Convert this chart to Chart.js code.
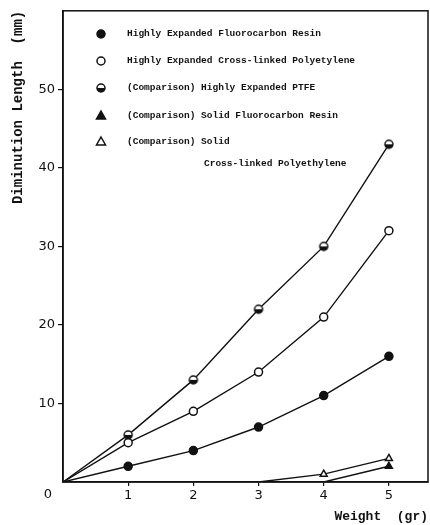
<!DOCTYPE html>
<html>
<head>
<meta charset="utf-8">
<script src="https://cdn.jsdelivr.net/npm/chart.js@4"></script>
<style>
  html, body { margin: 0; padding: 0; background: #fff; }
  canvas { display: block; }
</style>
</head>
<body>
<canvas id="mainChart" width="430" height="525"></canvas>
<script>
// values
const weights = [0, 1, 2, 3, 4, 5];
const fluoroResin = [0, 2, 4, 7, 11, 16];
const crossLinked = [0, 5, 9, 14, 21, 32];
const ptfe = [0, 6, 13, 22, 30, 43];
const solidPolyWeights = [3, 4, 5];
const solidPoly = [0, 1, 3];
const solidFluoroWeights = [4, 5];
const solidFluoro = [0, 2];

const legendLabels = [
  ["Highly Expanded Fluorocarbon Resin"],
  ["Highly Expanded Cross-linked Polyetylene"],
  ["(Comparison) Highly Expanded PTFE"],
  ["(Comparison) Solid Fluorocarbon Resin"],
  ["(Comparison) Solid", "Cross-linked Polyethylene"]
];

const INK = "#111";
const MONO = "'Liberation Mono', 'DejaVu Sans Mono', monospace";

function toPoints(xs, ys) {
  return xs.map((x, i) => ({ x: x, y: ys[i] }));
}

// half filled circle marker
function halfCircle(r) {
  const c = document.createElement("canvas");
  const s = r * 2 + 4;
  c.width = s;
  c.height = s;
  const g = c.getContext("2d");
  const m = s / 2;
  g.fillStyle = "#fff";
  g.beginPath();
  g.arc(m, m, r, 0, Math.PI * 2);
  g.fill();
  g.fillStyle = INK;
  g.beginPath();
  g.arc(m, m, r, 0, Math.PI);
  g.fill();
  g.strokeStyle = INK;
  g.lineWidth = 1.5;
  g.beginPath();
  g.arc(m, m, r, 0, Math.PI * 2);
  g.stroke();
  return c;
}

const halfMarker = halfCircle(4);

function series(label, data, style, fill, radii) {
  return {
    label: label,
    data: data,
    showLine: true,
    borderColor: INK,
    borderWidth: 1.4,
    pointStyle: style,
    pointRadius: radii,
    pointBackgroundColor: fill,
    pointBorderColor: INK,
    pointBorderWidth: 1.5
  };
}

const datasets = [
  series("fluoro", toPoints(weights, fluoroResin), "circle", INK, [0, 4, 4, 4, 4, 4]),
  series("cross", toPoints(weights, crossLinked), "circle", "#fff", [0, 4, 4, 4, 4, 4]),
  series("ptfe", toPoints(weights, ptfe), halfMarker, INK, [0, 4, 4, 4, 4, 4]),
  series("solidFluoro", toPoints(solidFluoroWeights, solidFluoro), "triangle", INK, [0, 4]),
  series("solidPoly", toPoints(solidPolyWeights, solidPoly), "triangle", "#fff", [0, 4, 4])
];

function drawMarker(ctx, kind, x, y) {
  ctx.save();
  ctx.strokeStyle = INK;
  ctx.fillStyle = INK;
  ctx.lineWidth = 1.5;
  ctx.beginPath();
  if (kind === "tri" || kind === "triOpen") {
    ctx.moveTo(x, y - 5);
    ctx.lineTo(x + 4.5, y + 3);
    ctx.lineTo(x - 4.5, y + 3);
    ctx.closePath();
  } else {
    ctx.arc(x, y, 4, 0, Math.PI * 2);
  }
  if (kind === "dot" || kind === "tri") ctx.fill();
  if (kind === "half") {
    ctx.drawImage(halfMarker, x - halfMarker.width / 2, y - halfMarker.height / 2);
  } else {
    ctx.stroke();
  }
  ctx.restore();
}

const extrasPlugin = {
  id: "extras",
  afterDraw(chart) {
    const ctx = chart.ctx;
    const a = chart.chartArea;
    ctx.save();
    // frame
    ctx.strokeStyle = INK;
    ctx.lineWidth = 1.5;
    ctx.strokeRect(a.left, a.top, a.right - a.left, a.bottom - a.top);

    // origin label
    ctx.fillStyle = INK;
    ctx.font = "13px 'DejaVu Sans', sans-serif";
    ctx.textAlign = "center";
    ctx.textBaseline = "middle";
    ctx.fillText("0", 48, 495);

    // legend
    const kinds = ["dot", "open", "half", "tri", "triOpen"];
    const rows = [34, 61, 88, 116, 142];
    ctx.font = "bold 9.5px " + MONO;
    ctx.textAlign = "left";
    legendLabels.forEach((lines, i) => {
      drawMarker(ctx, kinds[i], 101, rows[i]);
      ctx.fillText(lines[0], 127, rows[i]);
      if (lines[1]) ctx.fillText(lines[1], 204, rows[i] + 22);
    });
    ctx.restore();
  }
};

new Chart(document.getElementById("mainChart"), {
  type: "scatter",
  data: { datasets: datasets },
  plugins: [extrasPlugin],
  options: {
    responsive: false,
    animation: false,
    layout: { autoPadding: false, padding: { top: 9, right: 2, left: 6, bottom: 0 } },
    plugins: {
      legend: { display: false },
      tooltip: { enabled: false }
    },
    scales: {
      x: {
        type: "linear",
        min: 0,
        max: 5.6,
        afterBuildTicks: (s) => {
          s.ticks = s.ticks.filter((t) => Number.isInteger(t.value) && t.value > 0);
        },
        afterFit: (s) => { s.height = 43; },
        ticks: { stepSize: 1, color: INK, font: { size: 13, family: "'DejaVu Sans', sans-serif" }, padding: 2 },
        grid: { drawOnChartArea: false, drawTicks: true, tickLength: 4, color: INK, lineWidth: 1.2 },
        border: { display: true, color: INK, width: 1.5 },
        title: {
          display: true,
          text: "Weight  (gr)",
          align: "end",
          color: INK,
          font: { size: 13, weight: "bold", family: MONO },
          padding: { top: 4, bottom: 0 }
        }
      },
      y: {
        min: 0,
        max: 60,
        afterBuildTicks: (s) => {
          s.ticks = s.ticks.filter((t) => t.value > 0 && t.value < 60);
        },
        afterFit: (s) => { s.width = 57; },
        ticks: { stepSize: 10, color: INK, font: { size: 13, family: "'DejaVu Sans', sans-serif" }, padding: 3 },
        grid: { drawOnChartArea: false, drawTicks: true, tickLength: 5, color: INK, lineWidth: 1.2 },
        border: { display: true, color: INK, width: 1.5 },
        title: {
          display: true,
          text: "Diminution Length  (mm)",
          align: "end",
          color: INK,
          font: { size: 14, weight: "bold", family: MONO },
          padding: { top: 4, bottom: 4 }
        }
      }
    }
  }
});
</script>
</body>
</html>
